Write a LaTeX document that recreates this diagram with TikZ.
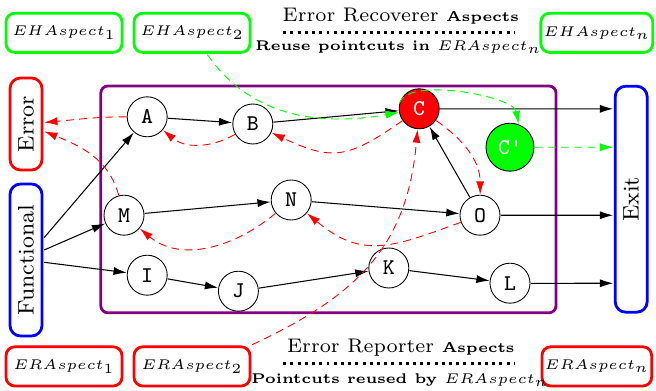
\documentclass[tikz,border=0pt]{standalone}
\usetikzlibrary{arrows.meta}
\definecolor{purp}{RGB}{128,0,128}

\begin{document}
\begin{tikzpicture}
  [
    scale=1.6, every node/.append style={transform shape},
    >={Latex[length=7.5pt, width=4.6pt]},
    state/.style={circle, draw=black, line width=0.5pt, minimum size=5mm,
    inner sep=0pt, font=\footnotesize\ttfamily},
    aspect/.style={draw, rounded corners=5pt, line width=1.6pt, inner xsep=1pt,
    minimum width=14.5mm, minimum height=4.9mm, font=\tiny},
    side/.style={draw=blue, rounded corners=6pt, line width=1.6pt,
    minimum width=4mm, inner sep=1pt, font=\footnotesize},
    flow/.style={->, line width=0.6pt},
    err/.style={->, draw=red, line width=0.5pt, dash pattern=on 4.5pt off 3pt},
    rec/.style={err, draw=green},
    dotrule/.style={line width=1.7pt, dash pattern=on 1.7pt off 2.4pt}
  ]
  \useasboundingbox (0,0) rectangle (8.2,-4.8875);

  % aspects
  \node (eh1) at (0.8,-0.41)  [aspect, draw=green] {$EHAspect_1$};
  \node (eh2) at (2.4,-0.41)  [aspect, draw=green] {$EHAspect_2$};
  \node (ehn) at (7.46,-0.41) [aspect, draw=green, minimum width=13.6mm] {$EHAspect_n$};
  \node (era1) at (0.8,-4.58)  [aspect, draw=red] {$ERAspect_1$};
  \node (era2) at (2.4,-4.58)  [aspect, draw=red] {$ERAspect_2$};
  \node (eran) at (7.46,-4.58) [aspect, draw=red, minimum width=13.6mm] {$ERAspect_n$};

  \node (recTitle) at (5.01,-0.2) [font=\scriptsize] {Error Recoverer {\tiny\bfseries Aspects}};
  \coordinate (recL) at (3.54,-0.41);
  \coordinate (recR) at (6.44,-0.41);
  \draw [dotrule] (recL) -- (recR);
  \node (recSub) at (4.98,-0.59) [font=\tiny\bfseries] {Reuse pointcuts in $ERAspect_n$};

  \node (repTitle) at (5.01,-4.34) [font=\scriptsize] {Error Reporter {\tiny\bfseries Aspects}};
  \coordinate (repL) at (3.54,-4.54);
  \coordinate (repR) at (6.44,-4.54);
  \draw [dotrule] (repL) -- (repR);
  \node (repSub) at (5.0,-4.75) [font=\tiny\bfseries] {Pointcuts reused by $ERAspect_n$};

  % side boxes
  \node (error) at (0.325,-1.55) [side, draw=red, minimum height=11.5mm] {\rotatebox{90}{Error}};
  \node (func)  at (0.325,-3.25) [side, minimum height=19mm] {\rotatebox{90}{Functional}};
  \node (exit)  at (7.89,-2.49)  [side, minimum height=28.25mm] {\rotatebox{90}{Exit}};

  \draw [purp, line width=1.6pt, rounded corners=4pt] (1.26,-1.075) rectangle (6.95,-3.91);

  % states
  \node (A) at (1.84,-1.46) [state] {A};
  \node (B) at (3.16,-1.55) [state] {B};
  \node (C) at (5.24,-1.36) [state, fill=red, text=white] {C};
  \node (Cp) at (6.375,-1.84) [state, fill=green, text=white, minimum size=6mm] {C'};
  \node (M) at (1.55,-2.69) [state] {M};
  \node (N) at (3.64,-2.5)  [state] {N};
  \node (O) at (6.0,-2.69)  [state] {O};
  \node (I) at (1.84,-3.44) [state] {I};
  \node (J) at (2.98,-3.64) [state] {J};
  \node (K) at (4.86,-3.35) [state] {K};
  \node (L) at (6.375,-3.54) [state] {L};

  \draw [flow] (func.51) -- (A);
  \draw [flow] (func.29) -- (M);
  \draw [flow] (func.-7) -- (I);
  \draw [flow] (A) -- (B);
  \draw [flow] (B) -- (C);
  \draw [flow] (M) -- (N);
  \draw [flow] (N) -- (O);
  \draw [flow] (O) -- (C);
  \draw [flow] (I) -- (J);
  \draw [flow] (J) -- (K);
  \draw [flow] (K) -- (L);
  \draw [flow] (C) -- (C -| exit.west);
  \draw [flow] (O) -- (O -| exit.west);
  \draw [flow] (L) -- (L -| exit.west);

  \draw [err] (A) to[out=180, in=5] (error);
  \draw [err] (M) to[out=105, in=-22] (error);
  \draw [err] (B) to[out=-150, in=-40] (A);
  \draw [err] (C) to[out=-145, in=-25, looseness=1.3] (B);
  \draw [err] (N) to[out=-140, in=-40] (M);
  \draw [err] (O) to[out=-160, in=-40, looseness=1.2] (N);
  \draw [err] (C) to[out=-35, in=90] (O);
  \draw [err] (era2.north east) to[out=25, in=-95, looseness=1.1] (C);

  \draw [rec] (eh2) to[out=-55, in=190] (C);
  \draw [rec] (C.165) to[out=75, in=100, looseness=0.6] (Cp.70);
  \draw [rec] (Cp) -- (Cp -| exit.west);
\end{tikzpicture}
\end{document}
